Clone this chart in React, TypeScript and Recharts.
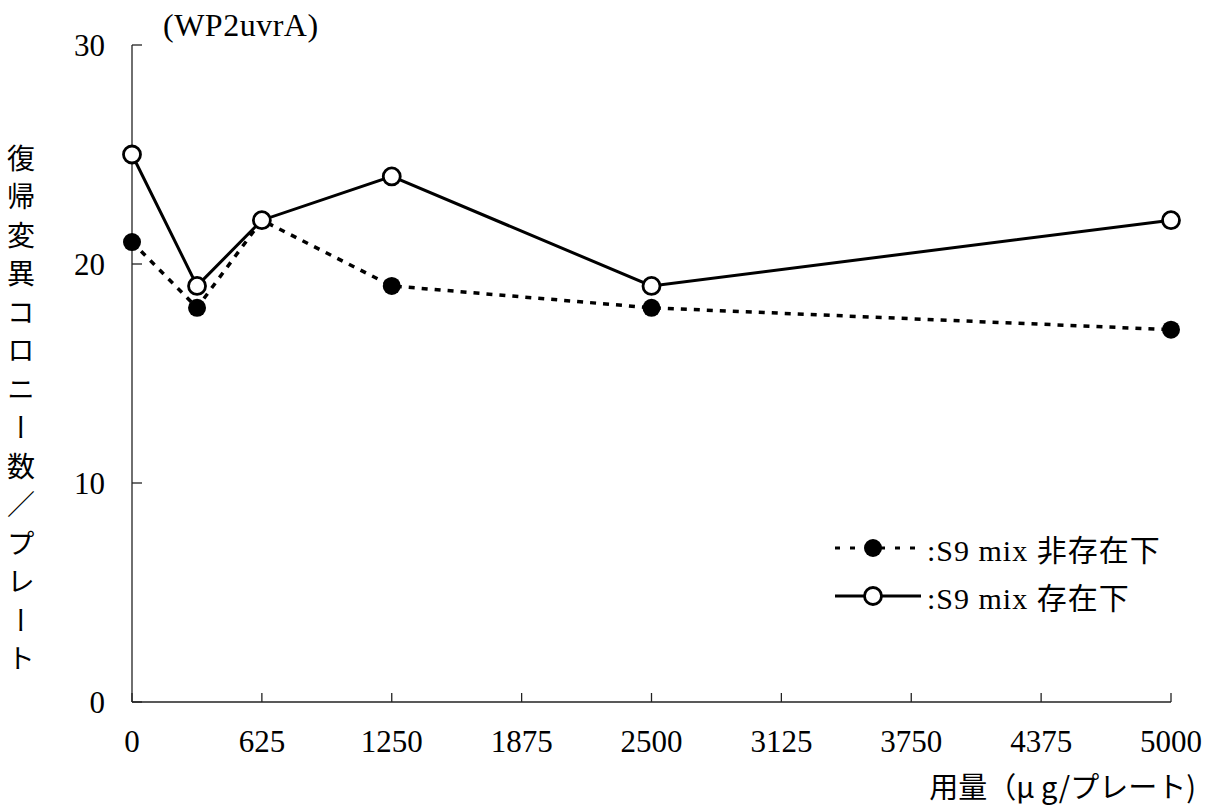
import React from 'react';
import { LineChart, Line, XAxis, YAxis, Legend, Label } from 'recharts';

// dose (µg/plate) and revertant colonies per plate
const doses = [0, 313, 625, 1250, 2500, 5000];
const withoutS9 = [21, 18, 22, 19, 18, 17];
const withS9 = [25, 19, 22, 24, 19, 22];
const seriesNames = [':S9 mix 非存在下', ':S9 mix 存在下'];
const xTicks = [0, 625, 1250, 1875, 2500, 3125, 3750, 4375, 5000];
const yTicks = [0, 10, 20, 30];

const data = doses.map((dose, i) => ({ dose, without: withoutS9[i], with: withS9[i] }));

const SERIF = '"Liberation Serif", "DejaVu Serif", "Noto Sans CJK JP", serif';
const CJK = '"Noto Sans CJK JP", "Liberation Serif", serif';

const LegendContent = (props: any) => {
  const payload = [...(props.payload || [])].sort(
    (a: any, b: any) => seriesNames.indexOf(a.value) - seriesNames.indexOf(b.value)
  );
  return (
    <div style={{ fontFamily: SERIF, fontSize: 30, color: '#000', letterSpacing: 1 }}>
      {payload.map((entry: any) => {
        const dashed = entry.dataKey === 'without';
        return (
          <div key={entry.dataKey} style={{ display: 'flex', alignItems: 'center', height: 48 }}>
            <svg width={92} height={26}>
              <line
                x1={2}
                y1={13}
                x2={88}
                y2={13}
                stroke="#000"
                strokeWidth={3}
                strokeDasharray={dashed ? '5 10' : undefined}
              />
              {dashed ? (
                <circle cx={40} cy={13} r={9} fill="#000" />
              ) : (
                <circle cx={40} cy={13} r={8.5} fill="#fff" stroke="#000" strokeWidth={2.8} />
              )}
            </svg>
            <span style={{ marginLeft: 2 }}>{entry.value}</span>
          </div>
        );
      })}
    </div>
  );
};

export default function App() {
  return (
    <div style={{ position: 'absolute', left: 0, top: 0, background: '#fff' }}>
      <LineChart
        width={1209}
        height={811}
        data={data}
        margin={{ top: 45, right: 38, bottom: 49, left: 72 }}
      >
        <XAxis
          dataKey="dose"
          type="number"
          domain={[0, 5000]}
          ticks={xTicks}
          interval={0}
          height={60}
          tickSize={-9}
          tickMargin={37}
          axisLine={{ stroke: '#222', strokeWidth: 1.3 }}
          tickLine={{ stroke: '#222', strokeWidth: 1.3 }}
          tick={{ fill: '#000', fontSize: 31, fontFamily: SERIF }}
        >
          <Label
            content={() => (
              <text x={1196} y={798} textAnchor="end" fontSize={29} fontFamily={CJK} fill="#000">
                用量（μ g/プレート)
              </text>
            )}
          />
        </XAxis>
        <YAxis
          type="number"
          domain={[0, 30]}
          ticks={yTicks}
          interval={0}
          width={60}
          tickSize={-10}
          tickMargin={37}
          axisLine={{ stroke: '#222', strokeWidth: 1.3 }}
          tickLine={{ stroke: '#222', strokeWidth: 1.3 }}
          tick={{ fill: '#000', fontSize: 31, fontFamily: SERIF }}
        >
          <Label
            content={() => (
              <g>
                <text x={163} y={36} fontSize={32} fontFamily={SERIF} fill="#000" letterSpacing={0.5}>
                  (WP2uvrA)
                </text>
                <text
                  x={21}
                  y={144}
                  fontSize={28}
                  fontFamily={CJK}
                  fill="#000"
                  style={{ writingMode: 'vertical-rl', letterSpacing: 10.5 }}
                >
                  復帰変異コロニー数／プレート
                </text>
              </g>
            )}
          />
        </YAxis>
        <Legend
          layout="vertical"
          align="center"
          verticalAlign="middle"
          content={LegendContent}
          wrapperStyle={{ position: 'absolute', left: 833, top: 524, width: 376 }}
        />
        <Line
          dataKey="without"
          name={seriesNames[0]}
          stroke="#000"
          strokeWidth={3.5}
          strokeDasharray="6 7"
          dot={{ r: 9, fill: '#000', stroke: '#000', strokeWidth: 0 }}
          isAnimationActive={false}
        />
        <Line
          dataKey="with"
          name={seriesNames[1]}
          stroke="#000"
          strokeWidth={3}
          dot={{ r: 8.5, fill: '#fff', stroke: '#000', strokeWidth: 2.8 }}
          isAnimationActive={false}
        />
      </LineChart>
    </div>
  );
}
